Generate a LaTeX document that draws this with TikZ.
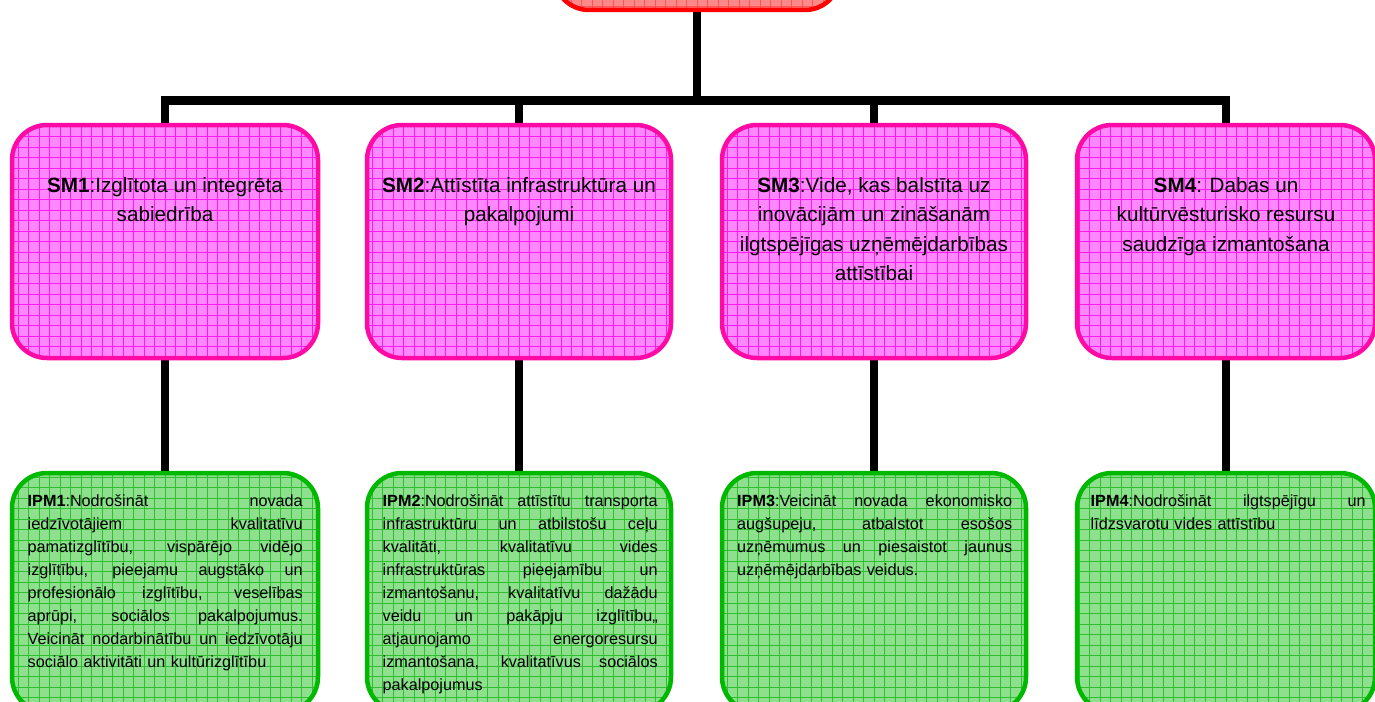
\documentclass[tikz,border=0pt]{standalone}
\usepackage{fontspec}
\setmainfont{Liberation Sans}
\usetikzlibrary{calc,backgrounds}
\definecolor{pinkfill}{HTML}{FF88FF}
\definecolor{pinkgrid}{HTML}{FF1AEE}
\definecolor{pinkborder}{HTML}{FF0AA5}
\definecolor{greenfill}{HTML}{8EE08E}
\definecolor{greengrid}{HTML}{2EC02E}
\definecolor{greenborder}{HTML}{00B800}
\definecolor{redfill}{HTML}{FF8888}
\definecolor{redgrid}{HTML}{FF5555}
\definecolor{redborder}{HTML}{FF0000}
\newcommand\jl[1]{\makebox[275pt][s]{\spaceskip=0.278em plus 5em\xspaceskip=0.278em plus 5em #1}}
\tikzset{
  box/.style={rectangle, rounded corners=35pt, line width=4.5pt, inner sep=0pt},
  gridded/.style={path picture={\draw[#1, line width=1pt, step=10.5pt]
      (path picture bounding box.south west) grid (path picture bounding box.north east);}},
  pinkbox/.style={box, draw=pinkborder, fill=pinkfill, gridded=pinkgrid,
      minimum height=233pt},
  greenbox/.style={box, draw=greenborder, fill=greenfill, gridded=greengrid,
      minimum height=239pt},
  redbox/.style={box, draw=redborder, fill=redfill, gridded=redgrid},
  pinktext/.style={font=\fontsize{20.7}{29.5}\selectfont, align=center, anchor=base, inner sep=0pt},
  greentext/.style={font=\fontsize{16.2}{23}\selectfont, text width=275pt, align=left,
      anchor=base west, inner sep=0pt},
  conn/.style={line width=8.5pt, black, line join=miter},
}
\begin{document}
\begin{tikzpicture}[x=1pt, y=-1pt]
\useasboundingbox (0,0) rectangle (1375,701);
\clip (0,0) rectangle (1375,701);

% top box
\node[redbox, minimum width=286pt, minimum height=90pt] (top) at (697,-35) {};

% strategic goals
\node[pinkbox, minimum width=306pt] (SM1) at (165,241.5) {};
\node[pinkbox, minimum width=304pt] (SM2) at (519,241.5) {};
\node[pinkbox, minimum width=304pt] (SM3) at (874,241.5) {};
\node[pinkbox, minimum width=298pt] (SM4) at (1226,241.5) {};

% priorities
\node[greenbox, minimum width=306pt] (IPM1) at (165,592.5) {};
\node[greenbox, minimum width=304pt] (IPM2) at (519,592.5) {};
\node[greenbox, minimum width=304pt] (IPM3) at (874,592.5) {};
\node[greenbox, minimum width=298pt] (IPM4) at (1226,592.5) {};

% texts (anchor base = baseline of last line)
\node[pinktext] (t1) at (165,221.5) {\textbf{SM1}:Izglītota un integrēta\\sabiedrība};
\node[pinktext] (t2) at (519,221.5) {\textbf{SM2}:Attīstīta infrastruktūra un\\pakalpojumi};
\node[pinktext] (t3) at (874,280.5) {\textbf{SM3}:Vide, kas balstīta uz\\inovācijām un zināšanām\\ilgtspējīgas uzņēmējdarbības\\attīstībai};
\node[pinktext] (t4) at (1226,251) {\textbf{SM4}: Dabas un\\kultūrvēsturisko resursu\\saudzīga izmantošana};

\node[greentext] (p1) at (27.5,506) {\jl{\textbf{IPM1}:Nodrošināt novada}\\
\jl{iedzīvotājiem kvalitatīvu}\\
\jl{pamatizglītību, vispārējo vidējo}\\
\jl{izglītību, pieejamu augstāko un}\\
\jl{profesionālo izglītību, veselības}\\
\jl{aprūpi, sociālos pakalpojumus.}\\
\jl{Veicināt nodarbinātību un iedzīvotāju}\\
sociālo aktivitāti un kultūrizglītību};
\node[greentext] (p2) at (382.5,506) {\jl{\textbf{IPM2}:Nodrošināt attīstītu transporta}\\
\jl{infrastruktūru un atbilstošu ceļu}\\
\jl{kvalitāti, kvalitatīvu vides}\\
\jl{infrastruktūras pieejamību un}\\
\jl{izmantošanu, kvalitatīvu dažādu}\\
\jl{veidu un pakāpju izglītību,,}\\
\jl{atjaunojamo energoresursu}\\
\jl{izmantošana, kvalitatīvus sociālos}\\
pakalpojumus};
\node[greentext] (p3) at (737,506) {\jl{\textbf{IPM3}:Veicināt novada ekonomisko}\\
\jl{augšupeju, atbalstot esošos}\\
\jl{uzņēmumus un piesaistot jaunus}\\
uzņēmējdarbības veidus.};
\node[greentext] (p4) at (1090.5,506) {\jl{\textbf{IPM4}:Nodrošināt ilgtspējīgu un}\\
līdzsvarotu vides attīstību};

% connectors
\begin{scope}[on background layer]
\fill[white] (0,0) rectangle (1375,701);
\coordinate (bus) at (697,100.5);
\draw[conn] (top.south) -- (bus);
\draw[conn] (SM1.north) |- (bus) -| (SM4.north);
\draw[conn] (SM2.north) -- (SM2.north |- bus);
\draw[conn] (SM3.north) -- (SM3.north |- bus);
\draw[conn] (SM1.south) -- (IPM1.north);
\draw[conn] (SM2.south) -- (IPM2.north);
\draw[conn] (SM3.south) -- (IPM3.north);
\draw[conn] (SM4.south) -- (IPM4.north);
\end{scope}
\end{tikzpicture}
\end{document}
